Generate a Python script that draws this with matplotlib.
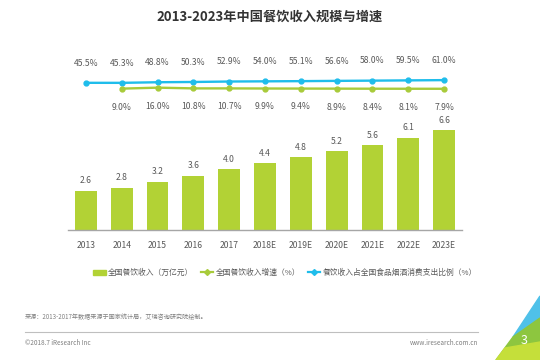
import numpy as np
import matplotlib.pyplot as plt
from matplotlib.patches import Polygon
from matplotlib.lines import Line2D
from matplotlib.patches import Patch

plt.rcParams['font.family'] = ['Noto Sans CJK SC', 'DejaVu Sans']

years = ['2013', '2014', '2015', '2016', '2017', '2018E', '2019E', '2020E', '2021E', '2022E', '2023E']
revenue = [2.6, 2.8, 3.2, 3.6, 4.0, 4.4, 4.8, 5.2, 5.6, 6.1, 6.6]
growth_years = years[1:]
growth = [9.0, 16.0, 10.8, 10.7, 9.9, 9.4, 8.9, 8.4, 8.1, 7.9]
share = [45.5, 45.3, 48.8, 50.3, 52.9, 54.0, 55.1, 56.6, 58.0, 59.5, 61.0]

bar_color = '#B2D235'
green = '#A8CB3A'
blue = '#1FBDEB'
txt = '#595959'

fig = plt.figure(figsize=(5.4, 3.6), dpi=100)
fig.patch.set_facecolor('white')

ax = fig.add_axes([68 / 540, 1 - 230 / 360, 394 / 540, 180 / 360])
x = np.arange(len(years))
ax.bar(x, revenue, width=0.61, color=bar_color, zorder=2)
ax.set_xlim(-0.5, 10.5)
ax.set_ylim(0, 11.9)
for xi, v in zip(x, revenue):
    ax.annotate(f'{v:.1f}', (xi, v), xytext=(0, 4), textcoords='offset points',
                ha='center', va='bottom', fontsize=6.2, color=txt)
ax.set_xticks(x)
ax.set_xticklabels(years, fontsize=6.2, color=txt)
ax.tick_params(axis='x', length=0, pad=8)
ax.set_yticks([])
for s in ['top', 'right', 'left']:
    ax.spines[s].set_visible(False)
ax.spines['bottom'].set_color('#A6A6A6')
ax.spines['bottom'].set_linewidth(1.0)

# share line (blue)
ax_b = ax.twinx()
ax_b.set_ylim(-800, 234)
ax_b.plot(x, share, color=blue, lw=1.7, marker='o', ms=3.5, zorder=4)
for xi, v in zip(x, share):
    ax_b.annotate(f'{v:.1f}%', (xi, v), xytext=(0, 11), textcoords='offset points',
                  ha='center', va='bottom', fontsize=6.2, color=txt)
ax_b.axis('off')

# growth line (green)
ax_g = ax.twinx()
ax_g.set_ylim(-1001, 285)
xg = x[1:]
ax_g.plot(xg, growth, color=green, lw=1.7, marker='o', ms=3.5, zorder=3)
for xi, v in zip(xg, growth):
    ax_g.annotate(f'{v:.1f}%', (xi, v), xytext=(0, -10), textcoords='offset points',
                  ha='center', va='top', fontsize=6.2, color=txt)
ax_g.axis('off')

# title
fig.text(0.5, 1 - 17 / 360, '2013-2023年中国餐饮收入规模与增速', ha='center', va='center',
         fontsize=9.5, fontweight='bold', color='#333333')

# legend
handles = [
    Patch(color=bar_color, label='全国餐饮收入（万亿元）'),
    Line2D([0], [0], color=green, lw=1.6, marker='D', ms=3, label='全国餐饮收入增速（%）'),
    Line2D([0], [0], color=blue, lw=1.6, marker='D', ms=3, label='餐饮收入占全国食品烟酒消费支出比例（%）'),
]
fig.legend(handles=handles, loc='center', bbox_to_anchor=(285 / 540, 1 - 273 / 360), ncol=3,
           frameon=False, fontsize=5.6, handlelength=1.6, handletextpad=0.3, columnspacing=1.0,
           labelcolor=txt)

# footer
fig.text(25 / 540, 1 - 317 / 360, '来源：2013-2017年数据来源于国家统计局，艾瑞咨询研究院绘制。',
         ha='left', va='center', fontsize=4.4, color='#7F7F7F')
fig.add_artist(Line2D([25 / 540, 478 / 540], [1 - 332 / 360, 1 - 332 / 360],
                      color='#BFBFBF', lw=0.8))
fig.text(25 / 540, 1 - 343 / 360, '©2018.7 iResearch Inc', ha='left', va='center',
         fontsize=4.6, color='#7F7F7F')
fig.text(478 / 540, 1 - 343 / 360, 'www.iresearch.com.cn', ha='right', va='center',
         fontsize=4.6, color='#7F7F7F')

# corner decoration
def fpt(px, py):
    return (px / 540, 1 - py / 360)

fig.add_artist(Polygon([fpt(540, 296), fpt(540, 318), fpt(520, 338), fpt(513, 337)],
                       closed=True, color='#4FC1E9', transform=fig.transFigure))
fig.add_artist(Polygon([fpt(513, 337), fpt(540, 318), fpt(540, 360), fpt(496, 360)],
                       closed=True, color='#8DC63F', transform=fig.transFigure))
fig.add_artist(Polygon([fpt(505, 348), fpt(540, 342), fpt(540, 360), fpt(496, 360)],
                       closed=True, color='#C5DF3A', transform=fig.transFigure))
fig.text(524 / 540, 1 - 340 / 360, '3', ha='center', va='center', fontsize=9, color='white')

fig.savefig('out.png', dpi=100)
